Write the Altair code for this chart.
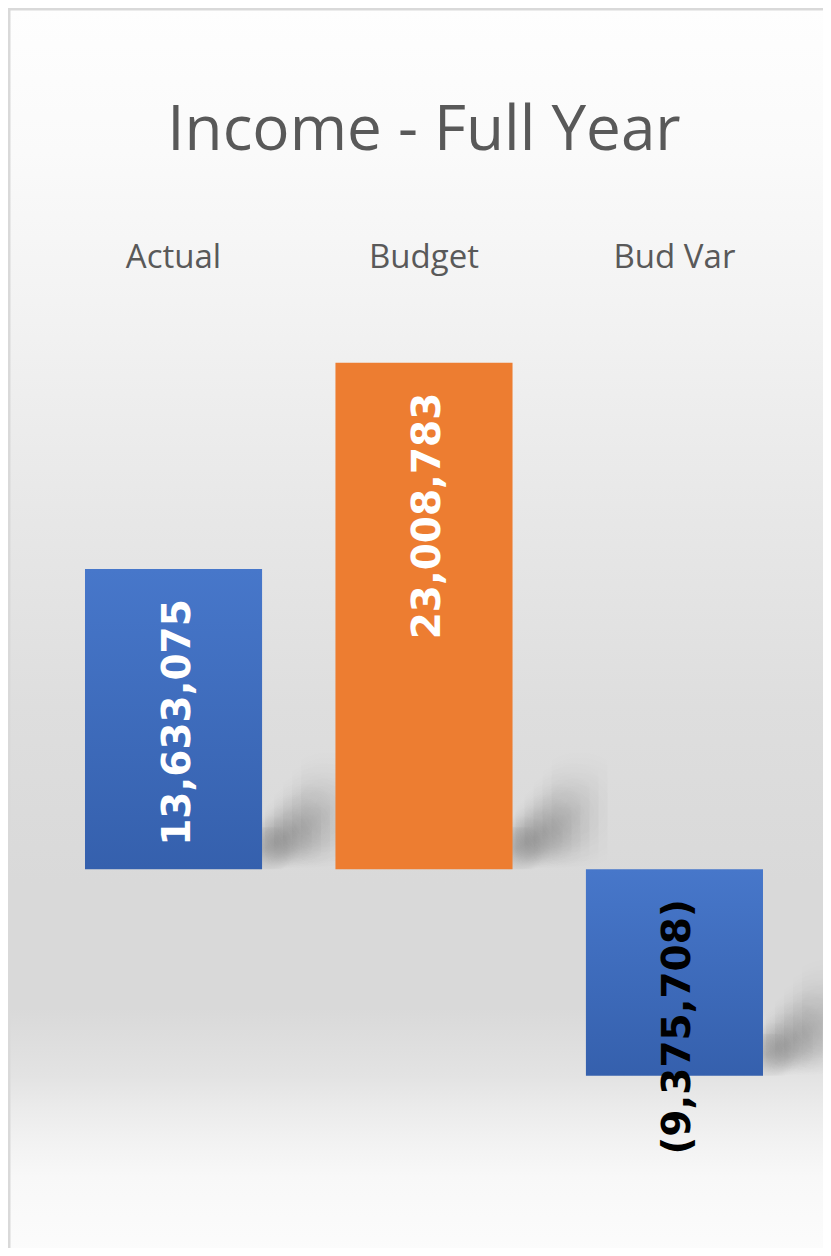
import altair as alt
import pandas as pd

# ---- data ----
categories = ["Actual", "Budget", "Bud Var"]
values = [13633075, 23008783, -9375708]
title_text = "Income - Full Year"

df = pd.DataFrame({"category": categories, "value": values})

# ---- layout / style ----
W, H = 815, 1240
Y_DOMAIN = [-17198000, 39114000]
BLOB_PX = 56
BLOB_SPAN = BLOB_PX / 22.02 * 1e6     # blob height expressed on the value axis
HALF_BAR = 88.5
SANS = "Open Sans"
GREY_TEXT = "#595959"

bg_stops = [
    (0.0, "#fefefe"), (0.115, "#fafafa"), (0.235, "#f3f3f3"), (0.397, "#e8e8e8"),
    (0.558, "#dedede"), (0.70, "#d9d9d9"), (0.80, "#d9d9d9"), (0.855, "#e3e3e3"),
    (0.88, "#ebebeb"), (0.907, "#f2f2f2"), (0.935, "#f8f8f8"), (1.0, "#fcfcfc"),
]
bg_grad = alt.LinearGradient(
    gradient="linear", x1=0, y1=0, x2=0, y2=1,
    stops=[alt.GradientStop(offset=o, color=c) for o, c in bg_stops],
)
blue_grad = alt.LinearGradient(
    gradient="linear", x1=0, y1=0, x2=0, y2=1,
    stops=[alt.GradientStop(offset=0, color="#4777CA"),
           alt.GradientStop(offset=1, color="#3560AD")],
)


def blob(alpha):
    return alt.RadialGradient(
        gradient="radial", x1=0.5, y1=0.5, r1=0, x2=0.5, y2=0.5, r2=0.5,
        stops=[alt.GradientStop(offset=0, color=f"rgba(0,0,0,{alpha:.3f})"),
               alt.GradientStop(offset=0.5, color=f"rgba(0,0,0,{alpha * 0.6:.3f})"),
               alt.GradientStop(offset=1, color="rgba(0,0,0,0)")],
    )


# soft overlapping blobs along a rising diagonal form each bar's shadow:
# (right shift px, rise px, opacity)
N_BLOBS = 8
shadow_steps = [
    (4 + 9 * k, 14 + 11 * k, 0.12 - 0.012 * k) for k in range(N_BLOBS)
]

x_enc = alt.X(
    "category:N", sort=categories, title=None,
    scale=alt.Scale(paddingInner=0.293, paddingOuter=0.2735, align=0.562),
    axis=alt.Axis(orient="top", offset=-259, domain=False, ticks=False, tickSize=0,
                  labelPadding=0, labelAngle=0, labelBaseline="alphabetic",
                  labelFont=SANS, labelFontSize=33, labelColor=GREY_TEXT,
                  grid=False, zindex=1),
)
y_scale = alt.Scale(domain=Y_DOMAIN, nice=False, zero=False)

bg = alt.Chart(alt.Data(values=[{}])).mark_rect(
    fill=bg_grad, stroke="#d9d9d9", strokeWidth=5
).encode(
    x=alt.value(0), x2=alt.value(alt.expr("width + 10")),
    y=alt.value(0), y2=alt.value(alt.expr("height + 10")),
)

base = alt.Chart(df)

shadow_base = base.transform_calculate(
    sh_bot="datum.value > 0 ? 0 : datum.value",
).transform_calculate(
    sh_top=f"datum.sh_bot + {BLOB_SPAN}",
)
shadow_layers = [
    shadow_base.mark_bar(
        width=BLOB_PX, xOffset=HALF_BAR + cx, yOffset=-(cy - BLOB_PX / 2), fill=blob(a)
    ).encode(
        x=x_enc,
        y=alt.Y("sh_top:Q", scale=y_scale, axis=None),
        y2="sh_bot:Q",
    )
    for cx, cy, a in shadow_steps
]

blue_bars = base.transform_filter(alt.datum.category != "Budget").mark_bar(
    fill=blue_grad
).encode(x=x_enc, y=alt.Y("value:Q", scale=y_scale, axis=None))

orange_bars = base.transform_filter(alt.datum.category == "Budget").mark_bar(
    fill="#ED7D31"
).encode(x=x_enc, y=alt.Y("value:Q", scale=y_scale, axis=None))

labels = base.transform_calculate(
    label="datum.value < 0 ? '(' + format(-datum.value, ',') + ')' : format(datum.value, ',')",
    label_y="max(datum.value, 0)",
).mark_text(
    angle=270, align="right", baseline="middle", dx=-30, dy=4,
    font="DejaVu Sans", fontWeight="bold", fontSize=39,
).encode(
    x=x_enc,
    y=alt.Y("label_y:Q", scale=y_scale, axis=None),
    text="label:N",
    color=alt.condition(alt.datum.value < 0, alt.value("#000000"), alt.value("#FFFFFF")),
)

chart = alt.layer(bg, *shadow_layers, blue_bars, orange_bars, labels).properties(
    width=W, height=H,
    autosize=alt.AutoSizeParams(type="none"),
    padding=0,
    background="white",
    title=alt.TitleParams(
        text=title_text, fontSize=62, font=SANS, fontWeight="normal",
        color=GREY_TEXT, anchor="middle", baseline="alphabetic",
        offset=-142, dx=8.5, dy=64,
    ),
).configure_view(strokeWidth=0)

chart.save("out.html", embed_options={"renderer": "svg", "actions": False})
